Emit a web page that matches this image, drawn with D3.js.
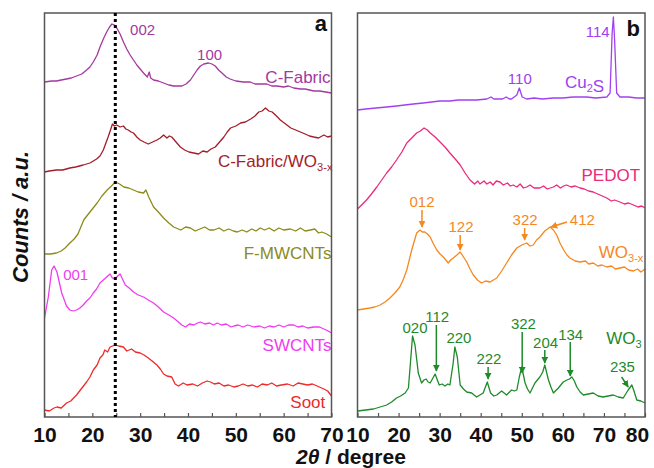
<!DOCTYPE html>
<html>
<head>
<meta charset="utf-8">
<script src="https://cdn.jsdelivr.net/npm/d3@7"></script>
<style>
  body { margin: 0; background: #fff; }
  text { font-family: "Liberation Sans", Arial, sans-serif; }
</style>
</head>
<body>
<svg id="chart" width="654" height="468"></svg>
<script>
// panel a : [2theta, counts]
var cFabric = [[10,335],[11.5,336],[12.5,336],[13.5,337],[14.6,338],[15.6,339],[16.7,341],[17.8,343],[18.8,347],[19.5,350],[20.2,355],[21,362],[21.6,370],[22.3,378],[23,385],[23.6,390],[24.1,393],[24.6,392],[25.1,389],[25.8,383],[26.5,375],[27.2,368],[27.9,362],[28.6,357],[29.3,352],[30,348],[30.7,344],[31.5,340],[31.9,345],[32.2,339],[32.8,337],[33.8,336],[34.9,334],[36,332],[37,331],[38.7,331],[39.6,333],[40.5,337],[41.2,342],[41.9,347],[42.6,351],[43.3,353],[44.3,354],[45,353],[45.7,351],[46.4,347],[47.1,344],[48,340],[48.8,338],[50,336],[51.6,335],[53,335],[54,333],[55.1,333],[56.5,333],[57.5,331],[58.6,331],[60,330],[61,331],[62.1,329],[63.5,328],[64.5,328],[66.3,326],[67.5,326],[68.8,325],[70,324]];
var cFabricWO3x = [[10,245],[11,246],[12.5,247],[13.8,247],[15.3,249],[16.5,250],[18.1,252],[19.5,254],[20.9,258],[21.6,261],[22.3,267],[23.3,280],[23.8,287],[24.2,293],[24.6,291],[25.1,292],[25.8,290],[26.5,291],[27,288],[27.5,287],[28.1,285],[28.6,284],[29.3,280],[30,277],[30.8,275],[31.7,273],[32.6,275],[33.5,277],[34.2,279],[34.9,282],[35.6,279],[36.1,281],[36.6,280],[37.5,275],[38.4,270],[39.3,267],[40.2,265],[41.2,264],[42.2,263],[43.1,266],[44,265],[44.8,268],[45.7,270],[46.6,275],[47.5,280],[48.2,285],[48.9,289],[50,291],[51,294],[52,295],[53.1,298],[54,301],[54.8,305],[55.5,306],[56.2,309],[56.9,306],[57.6,305],[58.5,301],[59.3,297],[60.4,293],[61.5,289],[62.5,287],[63.5,285],[64.5,283],[65.4,281],[66.3,280],[67.3,279],[68.4,282],[69.2,280],[70,281]];
var fMWCNTs = [[10,163],[11.3,163],[12.5,164],[13.5,166],[14.3,169],[15.3,174],[16.2,178],[17,183],[18.2,197],[19.5,205],[21,214],[22,221],[23.1,227],[24,231],[24.8,235],[25.7,233],[26.6,230],[27.6,229],[28.6,227],[29.6,225],[30.7,224],[31.2,227],[31.8,220],[32.8,210],[33.8,205],[34.9,199],[36,194],[37,190],[38.5,187],[39.5,190],[40.5,189],[41.5,186],[42.5,188],[43.5,190],[44.5,187],[45.4,187],[46.5,189],[47.5,186],[48.5,188],[49.5,186],[50.3,185],[51.3,187],[52.3,185],[53.3,188],[54.2,186],[55.1,189],[56,187],[57,189],[58,186],[59,189],[60,187],[61.4,188],[62.5,186],[63.5,189],[64.5,186],[65.6,187],[66.5,188],[67.3,184],[68,185],[69,183],[70,180]];
var swcnts = [[10,99],[10.8,120],[11.5,147],[12,151],[12.6,145],[13.6,124],[14.6,111],[15.3,107],[16,106],[16.7,107],[17.4,109],[18.1,112],[18.8,116],[19.5,119],[20.2,124],[20.9,128],[21.6,134],[22.3,137],[23,140],[23.7,143],[24.2,139],[24.8,138],[25.3,141],[25.8,143],[26.4,137],[26.9,132],[27.7,129],[28.6,125],[29.6,122],[30.7,120],[31.7,117],[32.8,114],[33.8,110],[34.9,105],[36,102],[37,99],[38,95],[38.7,92],[39.5,90],[40.3,93],[41.2,92],[42,94],[42.6,95],[43.5,93],[44.5,94],[45.3,92],[46.1,94],[47,92],[48,93],[49,90],[49.6,91],[50.5,92],[51.5,90],[52.5,92],[53.8,90],[55,91],[56,89],[57,91],[58,90],[59,92],[60,90],[61,92],[62.1,92],[63,90],[64,91],[65,89],[66.3,90],[67.5,90],[68.4,88],[69.3,86],[70,84]];
var soot = [[10,7],[11,6],[12,9],[12.6,10],[13.5,9],[14.6,14],[15.5,16],[16.7,22],[17.5,27],[18.8,35],[19.5,40],[20.2,47],[21,52],[21.6,59],[22.2,62],[22.6,67],[23.2,65],[23.7,70],[24.8,72],[25.5,71],[26.5,70],[27.2,66],[28.2,68],[29,65],[30,64],[30.8,62],[31.7,59],[32.5,56],[33.5,52],[34.2,48],[34.9,43],[35.6,41],[36.6,40],[37.3,33],[38,31],[39,34],[39.8,32],[41,33],[42,31],[43,34],[44,36],[44.7,35],[45.5,33],[46.5,34],[47.5,31],[48.5,32],[49.6,30],[50.5,31],[51.5,33],[52.5,31],[53.5,32],[54.5,30],[55.5,33],[56.6,32],[57.5,34],[58.5,31],[59.5,32],[60.8,33],[62,31],[63,34],[64,33],[65,32],[66,33],[67,31],[68.4,28],[69.2,26],[70,21]];

// panel b : [2theta, counts]
var cu2s = [[10,307],[12,308],[14.5,309],[17.1,310],[19.5,311],[21.5,312],[23.6,313],[26,314],[28,315],[30.1,316],[32.5,316],[34.5,317],[36.6,317],[39,317],[41.5,318],[42.5,320],[43.2,318],[43.9,318],[45.3,318],[46.2,320],[47,318],[47.5,318],[48.8,322],[49.4,329],[50.1,320],[51.2,318],[53,319],[55,318],[57.7,319],[60,319],[62.5,320],[65.8,320],[68,319],[70.7,320],[71.5,324],[72,384],[72.3,400],[72.6,377],[73.1,324],[73.9,320],[76,320],[78,319],[80,319]];
var pedot = [[10,208],[11,212],[12.2,217],[13.4,223],[14.7,230],[15.9,237],[17.1,244],[18.3,250],[19.5,257],[20.8,265],[22,274],[23.2,279],[24.4,284],[25.3,286],[26.2,289],[27,287],[27.7,284],[28.9,280],[30.1,275],[31.3,270],[32.5,264],[33.8,258],[35,252],[36.2,244],[37.4,237],[38.5,233],[39.3,236],[39.8,233],[40.8,236],[41.5,233],[42.3,235],[43,232],[43.8,236],[44.7,235],[45.5,232],[46.5,234],[47.2,231],[47.9,232],[48.8,230],[49.6,233],[50.4,229],[51.2,230],[52,232],[53,229],[54.4,229],[55.3,231],[56.2,228],[57.7,230],[58.5,232],[59.4,229],[60.2,231],[60.9,232],[62,230],[63,231],[64.2,229],[65.2,228],[66.3,226],[67.4,225],[68.5,223],[69.6,221],[70.7,219],[71.8,216],[72.6,217],[73.9,215],[75,213],[76,214],[77.2,212],[78.3,210],[79.2,211],[80,209]];
var wo3x = [[10,107],[11.5,108],[13,109],[14.2,110],[15.5,112],[16.7,115],[17.9,119],[19.1,124],[20.3,130],[21.2,138],[22,147],[23.2,167],[24.4,184],[25.2,187],[25.8,185],[26.4,185],[27,183],[27.7,180],[28.5,173],[29.3,167],[30.1,163],[30.9,160],[31.5,157],[32.1,154],[32.7,157],[33.3,159],[34.2,162],[35,165],[35.8,160],[36.6,155],[37.4,148],[38.2,142],[39.2,137],[40.2,134],[41.2,136],[42.3,135],[43.1,137],[43.9,139],[45.1,146],[46.3,154],[47.5,162],[48.8,169],[50,172],[51.2,174],[52,171],[52.8,172],[53.6,177],[54.4,180],[55.6,186],[56.9,190],[57.7,187],[58.5,182],[59.3,174],[60.2,167],[61,162],[61.7,159],[63,156],[64.2,155],[65.5,156],[66.3,153],[67.4,154],[68.5,151],[69.5,152],[70.7,150],[71.8,151],[72.8,148],[73.9,149],[75,150],[76,147],[77.2,146],[78.2,148],[79,145],[80,148]];
var wo3 = [[10,6],[12,7],[13.9,8],[15.5,10],[17.1,12],[18.3,15],[19.5,19],[20.5,21],[21.6,24],[22.4,29],[23,60],[23.4,81],[24,72],[24.8,44],[25.6,34],[26.2,37],[26.7,38],[27.2,35],[27.7,34],[28.9,43],[29.9,32],[30.6,33],[31.3,31],[32,33],[32.5,32],[33.3,54],[33.7,70],[34.3,60],[35,32],[35.8,28],[36.6,25],[37.8,24],[39,20],[39.8,22],[40.6,24],[41.6,35],[42.4,24],[43.2,21],[43.9,22],[45.1,26],[45.7,24],[46.3,22],[47.5,27],[48.2,26],[48.8,27],[49.4,40],[50,50],[50.8,34],[51.4,28],[52,24],[52.6,29],[53.2,34],[54.4,40],[55.1,45],[55.6,52],[56.5,37],[57.1,30],[57.7,24],[58.9,29],[60.1,35],[61,37],[61.6,38],[62.2,40],[62.8,36],[63.4,30],[64.2,25],[65,22],[66.2,23],[67.4,24],[68.6,21],[69.8,20],[71,21],[72.3,22],[73.5,20],[74.7,19],[75.3,23],[75.9,27],[76.8,32],[77.4,25],[78,17],[79,16],[80,14]];

var ticksA = [10, 20, 30, 40, 50, 60, 70];
var ticksB = [10, 20, 30, 40, 50, 60, 70, 80];
var ref002 = 24.8;

var svg = d3.select("#chart");
var plotTop = 13, plotBottom = 417;

var xA = d3.scaleLinear().domain([10, 70]).range([44.5, 331.5]);
var xB = d3.scaleLinear().domain([10, 80]).range([357.5, 645]);
var y = d3.scaleLinear().domain([0, 404]).range([plotBottom, plotTop]);

//arrow heads, one per colour
var defs = svg.append("defs");
function arrowId(color) {
  var id = "arr" + color.replace("#", "");
  if (defs.select("#" + id).empty()) {
    defs.append("marker")
      .attr("id", id)
      .attr("viewBox", "0 0 10 10")
      .attr("refX", 9)
      .attr("refY", 5)
      .attr("markerWidth", 7)
      .attr("markerHeight", 7)
      .attr("markerUnits", "userSpaceOnUse")
      .attr("orient", "auto")
      .append("path")
      .attr("d", "M0,0 L10,5 L0,10 z")
      .attr("fill", color);
  }
  return "url(#" + id + ")";
}

function drawLabel(g, x, yv, parts, color, size, anchor) {
  var t = g.append("text")
    .attr("x", x)
    .attr("y", yv)
    .attr("dy", "0.35em")
    .attr("fill", color)
    .attr("font-size", size)
    .attr("text-anchor", anchor);
  parts.forEach(function(p) {
    if (p.sub) {
      t.append("tspan").attr("dy", 4).attr("font-size", size * 0.65).text(p.s);
      t.append("tspan").attr("dy", -4).text("");
    } else {
      t.append("tspan").text(p.s);
    }
  });
}

function drawPanel(x, ticks, series, labels, arrows, letter) {
  var g = svg.append("g");
  var minor = d3.range(ticks[0], ticks[ticks.length - 1] + 0.1, 5);

  //minor ticks
  g.append("g")
    .attr("transform", "translate(0," + plotBottom + ")")
    .call(d3.axisBottom(x).tickValues(minor).tickSize(-4).tickFormat(""))
    .call(function(a) { a.select(".domain").remove(); })
    .selectAll("line").attr("stroke", "#555").attr("stroke-width", 1.2);

  //tick labels
  var ax = g.append("g")
    .attr("transform", "translate(0," + plotBottom + ")")
    .call(d3.axisBottom(x).tickValues(ticks).tickSize(0).tickPadding(10).tickFormat(d3.format("d")));
  ax.select(".domain").remove();
  ax.selectAll("text")
    .attr("font-size", 21)
    .attr("font-weight", "bold")
    .attr("fill", "#111")
    .style("font-family", '"Liberation Sans", Arial, sans-serif');
  //last label pulled inside the picture
  ax.selectAll("text").filter(function(d) { return x(d) > 640; }).attr("dx", -8);

  //data lines
  var line = d3.line()
    .x(function(d) { return x(d[0]); })
    .y(function(d) { return y(d[1]); });
  series.forEach(function(s) {
    g.append("path")
      .datum(s.data)
      .attr("d", line)
      .attr("fill", "none")
      .attr("stroke", s.color)
      .attr("stroke-width", 1.3)
      .attr("stroke-linejoin", "round");
  });

  //peak and sample labels
  labels.forEach(function(l) {
    drawLabel(g, x(l.x), y(l.y), l.parts, l.color, l.size, l.anchor);
  });

  arrows.forEach(function(a) {
    g.append("line")
      .attr("x1", x(a.x1)).attr("y1", y(a.y1))
      .attr("x2", x(a.x2)).attr("y2", y(a.y2))
      .attr("stroke", a.color)
      .attr("stroke-width", 1.5)
      .attr("marker-end", arrowId(a.color));
  });

  //frame
  g.append("rect")
    .attr("x", x.range()[0])
    .attr("y", plotTop)
    .attr("width", x.range()[1] - x.range()[0])
    .attr("height", plotBottom - plotTop)
    .attr("fill", "none")
    .attr("stroke", "#555")
    .attr("stroke-width", 1.5);

  g.append("text")
    .attr("x", letter.x)
    .attr("y", letter.y)
    .attr("text-anchor", "end")
    .attr("font-size", 22)
    .attr("font-weight", "bold")
    .attr("fill", "#111")
    .text(letter.t);
  return g;
}

var cPurple = "#a3389f", cDarkRed = "#a31d2a", cOlive = "#8b8b1c", cMagenta = "#f03cf0", cRed = "#ee2a2a";
var cViolet = "#a040f0", cPink = "#ea2a7a", cOrange = "#f5881f", cGreen = "#1f8a2a";

function txt(s) { return [{ s: s }]; }

var gA = drawPanel(xA, ticksA,
  [
    { data: cFabric, color: cPurple },
    { data: cFabricWO3x, color: cDarkRed },
    { data: fMWCNTs, color: cOlive },
    { data: swcnts, color: cMagenta },
    { data: soot, color: cRed }
  ],
  [
    { x: 27.9, y: 387, parts: txt("002"), color: cPurple, size: 15, anchor: "start" },
    { x: 41.9, y: 362, parts: txt("100"), color: cPurple, size: 15, anchor: "start" },
    { x: 69.8, y: 340, parts: txt("C-Fabric"), color: cPurple, size: 17, anchor: "end" },
    { x: 70.2, y: 256, parts: [{ s: "C-Fabric/WO" }, { s: "3-x", sub: true }], color: cDarkRed, size: 17, anchor: "end" },
    { x: 70, y: 164, parts: txt("F-MWCNTs"), color: cOlive, size: 17, anchor: "end" },
    { x: 13.9, y: 142, parts: txt("001"), color: cMagenta, size: 15, anchor: "start" },
    { x: 70, y: 72, parts: txt("SWCNTs"), color: cMagenta, size: 17, anchor: "end" },
    { x: 68.7, y: 15, parts: txt("Soot"), color: cRed, size: 17, anchor: "end" }
  ],
  [],
  { t: "a", x: 327, y: 31 });

//dotted 002 reference
gA.append("line")
  .attr("x1", xA(ref002)).attr("x2", xA(ref002))
  .attr("y1", plotTop).attr("y2", plotBottom)
  .attr("stroke", "#000")
  .attr("stroke-width", 3)
  .attr("stroke-dasharray", "3,3");

drawPanel(xB, ticksB,
  [
    { data: cu2s, color: cViolet },
    { data: pedot, color: cPink },
    { data: wo3x, color: cOrange },
    { data: wo3, color: cGreen }
  ],
  [
    { x: 46.6, y: 338, parts: txt("110"), color: cViolet, size: 15, anchor: "start" },
    { x: 60.5, y: 335, parts: [{ s: "Cu" }, { s: "2", sub: true }, { s: "S" }], color: cViolet, size: 17, anchor: "start" },
    { x: 71.4, y: 385, parts: txt("114"), color: cViolet, size: 15, anchor: "end" },
    { x: 78.8, y: 242, parts: txt("PEDOT"), color: cPink, size: 17, anchor: "end" },
    { x: 25.7, y: 215, parts: txt("012"), color: cOrange, size: 15, anchor: "middle" },
    { x: 35.2, y: 190, parts: txt("122"), color: cOrange, size: 15, anchor: "middle" },
    { x: 50.8, y: 197, parts: txt("322"), color: cOrange, size: 15, anchor: "middle" },
    { x: 61.7, y: 197, parts: txt("412"), color: cOrange, size: 15, anchor: "start" },
    { x: 79.6, y: 165, parts: [{ s: "WO" }, { s: "3-x", sub: true }], color: cOrange, size: 17, anchor: "end" },
    { x: 24, y: 89, parts: txt("020"), color: cGreen, size: 15, anchor: "middle" },
    { x: 29.4, y: 100, parts: txt("112"), color: cGreen, size: 15, anchor: "middle" },
    { x: 34.7, y: 79, parts: txt("220"), color: cGreen, size: 15, anchor: "middle" },
    { x: 42, y: 58, parts: txt("222"), color: cGreen, size: 15, anchor: "middle" },
    { x: 50.4, y: 93, parts: txt("322"), color: cGreen, size: 15, anchor: "middle" },
    { x: 55.8, y: 74, parts: txt("204"), color: cGreen, size: 15, anchor: "middle" },
    { x: 61.9, y: 82, parts: txt("134"), color: cGreen, size: 15, anchor: "middle" },
    { x: 79.2, y: 79, parts: [{ s: "WO" }, { s: "3", sub: true }], color: cGreen, size: 17, anchor: "end" },
    { x: 74.5, y: 50, parts: txt("235"), color: cGreen, size: 15, anchor: "middle" }
  ],
  [
    { x1: 25.7, y1: 207, x2: 25.7, y2: 190, color: cOrange },
    { x1: 35, y1: 182, x2: 35, y2: 167, color: cOrange },
    { x1: 50.7, y1: 189, x2: 50.7, y2: 177, color: cOrange },
    { x1: 61, y1: 195, x2: 57.1, y2: 190, color: cOrange },
    { x1: 29.2, y1: 92, x2: 29.2, y2: 46, color: cGreen },
    { x1: 41.8, y1: 50, x2: 41.8, y2: 38, color: cGreen },
    { x1: 50.1, y1: 85, x2: 50.1, y2: 44, color: cGreen },
    { x1: 55.6, y1: 67, x2: 55.6, y2: 54, color: cGreen },
    { x1: 61.8, y1: 75, x2: 61.8, y2: 41, color: cGreen },
    { x1: 74.3, y1: 40, x2: 75.9, y2: 30, color: cGreen }
  ],
  { t: "b", x: 640, y: 36 });

//axis titles
var xt = svg.append("text")
  .attr("x", 351)
  .attr("y", 464)
  .attr("text-anchor", "middle")
  .attr("font-size", 21)
  .attr("font-weight", "bold")
  .attr("fill", "#111");
xt.append("tspan").attr("font-style", "italic").text("2\u03b8");
xt.append("tspan").text(" / degree");

svg.append("text")
  .attr("transform", "translate(28,217) rotate(-90)")
  .attr("text-anchor", "middle")
  .attr("font-size", 22)
  .attr("font-weight", "bold")
  .attr("font-style", "italic")
  .attr("fill", "#111")
  .text("Counts / a.u.");
</script>
</body>
</html>
